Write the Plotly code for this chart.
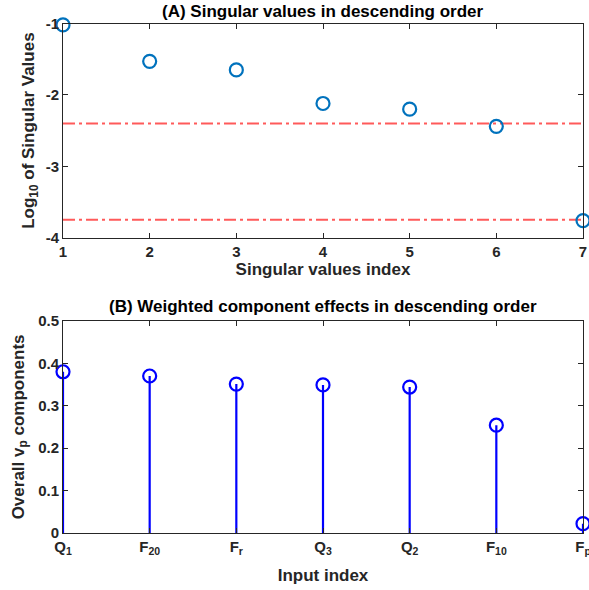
import plotly.graph_objects as go

# Panel A: log10 of singular values
sv_index = [1, 2, 3, 4, 5, 6, 7]
log_sv = [-1.02, -1.53, -1.65, -2.12, -2.20, -2.44, -3.76]
thresholds = [-2.40, -3.75]
a_yticks = [-4, -3, -2, -1]
a_yticktext = ["-4", "-3", "-2", "-1"]

# Panel B: weighted component effects
input_labels = ["Q<sub>1</sub>", "F<sub>20</sub>", "F<sub>r</sub>", "Q<sub>3</sub>",
                "Q<sub>2</sub>", "F<sub>10</sub>", "F<sub>p</sub>"]
input_pos = [1, 2, 3, 4, 5, 6, 7]
vp_values = [0.380, 0.370, 0.351, 0.349, 0.344, 0.254, 0.022]
b_yticks = [0, 0.1, 0.2, 0.3, 0.4, 0.5]
b_yticktext = ["0", "0.1", "0.2", "0.3", "0.4", "0.5"]

FONT = "Liberation Sans, Arial, Helvetica, sans-serif"
AXC = "#262626"

fig = go.Figure()

# threshold lines (dash-dot)
for t in thresholds:
    fig.add_trace(go.Scatter(
        x=[sv_index[0], sv_index[-1]], y=[t, t], mode="lines",
        line=dict(color="#ff5a5a", width=2, dash="12px,4px,3px,4px"),
        xaxis="x", yaxis="y", showlegend=False, hoverinfo="skip"))

fig.add_trace(go.Scatter(
    x=sv_index, y=log_sv, mode="markers", cliponaxis=False,
    marker=dict(symbol="circle-open", size=13, color="#0072BD",
                line=dict(width=2.2, color="#0072BD")),
    xaxis="x", yaxis="y", showlegend=False))

# stems
stem_x, stem_y = [], []
for xp, v in zip(input_pos, vp_values):
    stem_x += [xp, xp, None]
    stem_y += [0, v, None]
fig.add_trace(go.Scatter(
    x=stem_x, y=stem_y, mode="lines", cliponaxis=False,
    line=dict(color="#0000ff", width=2.2),
    xaxis="x2", yaxis="y2", showlegend=False, hoverinfo="skip"))
fig.add_trace(go.Scatter(
    x=input_pos, y=vp_values, mode="markers", cliponaxis=False,
    marker=dict(symbol="circle-open", size=13, color="#0000ff",
                line=dict(width=2.2, color="#0000ff")),
    xaxis="x2", yaxis="y2", showlegend=False))

tickfont = dict(family=FONT, size=15, color=AXC, weight="bold")
titlefont = dict(family=FONT, size=17, color=AXC, weight="bold")
common = dict(showline=True, linecolor=AXC, linewidth=1, mirror="ticks",
              ticks="inside", ticklen=5, tickcolor=AXC, showgrid=False,
              zeroline=False, tickfont=tickfont, automargin=False,
              ticklabeloverflow="allow")

fig.update_layout(
    width=589, height=590,
    margin=dict(l=63, r=6, t=23, b=57),
    paper_bgcolor="white", plot_bgcolor="white",
    font=dict(family=FONT, color=AXC),
    xaxis=dict(domain=[0, 1], anchor="y", range=[1, 7], tickvals=sv_index,
               title=dict(text="Singular values index", font=titlefont, standoff=2),
               **common),
    yaxis=dict(domain=[0.579, 0.999], anchor="x", range=[-4, -1],
               tickvals=a_yticks, ticktext=a_yticktext,
               title=dict(text="Log<sub>10</sub> of Singular Values", font=titlefont, standoff=6),
               **common),
    xaxis2=dict(domain=[0, 1], anchor="y2", range=[1, 7], tickvals=input_pos,
                ticktext=input_labels,
                title=dict(text="Input index", font=titlefont, standoff=12),
                **common),
    yaxis2=dict(domain=[0, 0.416], anchor="x2", range=[0, 0.5],
                tickvals=b_yticks, ticktext=b_yticktext,
                title=dict(text="Overall v<sub>p</sub> components", font=titlefont, standoff=9),
                **common),
)

# panel titles, placed just above each plot area
plot_h = 590 - 23 - 57
fig.add_annotation(text="(A) Singular values in descending order",
                   x=0.5, y=(533 - 11) / plot_h, xref="paper", yref="paper",
                   yanchor="middle", showarrow=False,
                   font=dict(family=FONT, size=17, color="black", weight="bold"))
fig.add_annotation(text="(B) Weighted component effects in descending order",
                   x=0.5, y=(533 - 306) / plot_h, xref="paper", yref="paper",
                   yanchor="middle", showarrow=False,
                   font=dict(family=FONT, size=17, color="black", weight="bold"))

fig.write_html("out.html")
